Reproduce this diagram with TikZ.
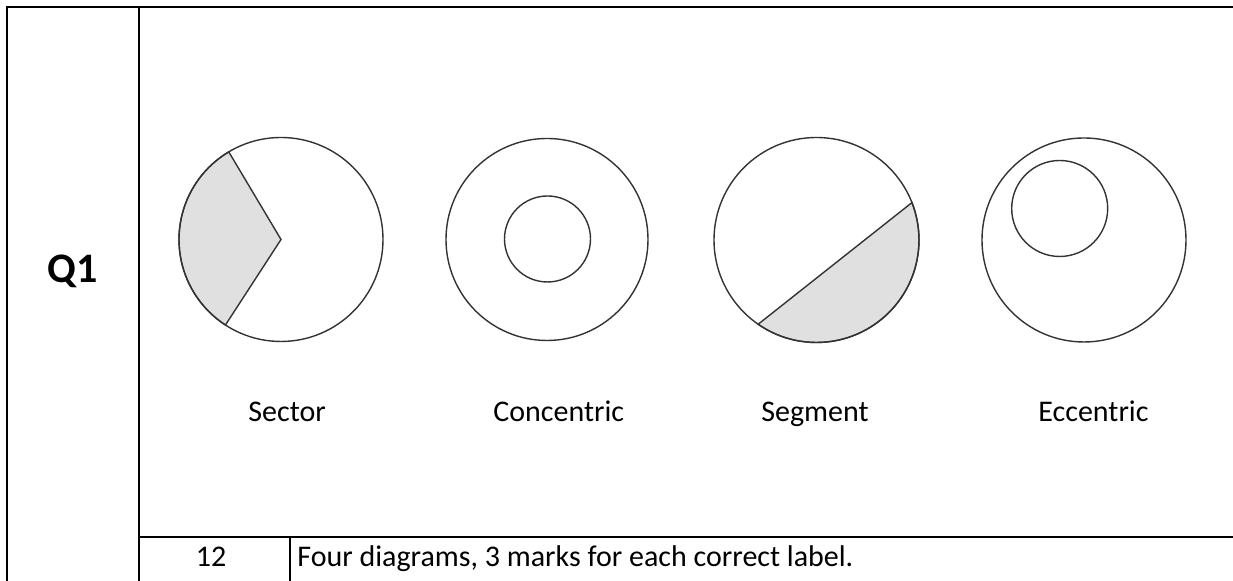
\documentclass[tikz,border=0pt]{standalone}
\usepackage{fontspec}
\setmainfont{Carlito}
\begin{document}
\begin{tikzpicture}[x=0.5pt,y=0.5pt,
        rule/.style={line width=1pt},
        ring/.style={draw=black!80, line width=0.7pt},
        part/.style={fill=black!12},
        lbl/.style={anchor=base west, inner sep=0pt, font=\fontsize{15}{18}\selectfont}]
    \useasboundingbox (0,0) rectangle (1233,581);
    % table
    \draw[rule] (1233,573.5) -- (7,573.5) -- (7,0);
    \draw[rule] (138.5,573.5) -- (138.5,0);
    \draw[rule] (138.5,44) -- (1233,44);
    \draw[rule] (290,44) -- (290,0);
    \node[anchor=base, inner sep=0pt, font=\fontsize{21}{25}\selectfont\bfseries] (q) at (73,298) {Q1};
    % sector
    \filldraw[ring, part] (281,341.5) -- +(120.8:102) arc (120.8:237:102) -- cycle;
    \draw[ring] (281,341.5) circle (102);
    % concentric
    \draw[ring] (547,341.5) circle (101);
    \draw[ring] (547.5,342) circle (43);
    % segment
    \filldraw[ring, part] (816.5,341) ++(235.3:102.5) arc (235.3:381.4:102.5) -- cycle;
    \draw[ring] (816.5,341) circle (102.5);
    % eccentric
    \draw[ring] (1084,341) circle (102);
    \draw[ring] (1059.7,372.5) circle (48);
    \node[lbl] (lsector) at (248,159) {Sector};
    \node[lbl] (lconc) at (493,159) {Concentric};
    \node[lbl] (lseg) at (761,159) {Segment};
    \node[lbl] (lecc) at (1038,159) {Eccentric};
    \node[anchor=base, inner sep=0pt, font=\fontsize{15}{18}\selectfont] (marks) at (211,14) {12};
    \node[lbl] (note) at (297,14) {Four diagrams, 3 marks for each correct label.};
\end{tikzpicture}
\end{document}
